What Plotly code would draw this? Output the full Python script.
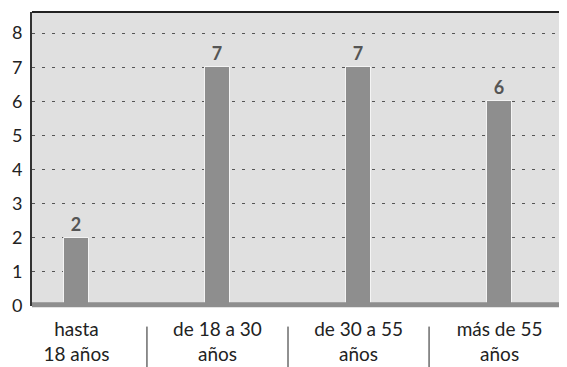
import plotly.graph_objects as go

# data
categories = ["hasta<br>18 años", "de 18 a 30<br>años", "de 30 a 55<br>años", "más de 55<br>años"]
values = [2, 7, 7, 6]
y_ticks = [0, 1, 2, 3, 4, 5, 6, 7, 8]

FONT = "Lato"
BAR_GREY = "#8e8e8e"

fig = go.Figure()

fig.add_trace(go.Bar(
    x=categories,
    y=values,
    width=0.18,
    marker=dict(color=BAR_GREY, line=dict(color="#f4f4f4", width=1)),
    text=[str(v) for v in values],
    textposition="outside",
    textfont=dict(family=FONT, size=18, color="#555555", weight="bold"),
    cliponaxis=False,
))

# separators between the category labels, below the axis
for i in range(len(categories) - 1):
    fig.add_shape(type="line", xref="x", yref="paper",
                  x0=i + 0.5, x1=i + 0.5, y0=-0.07, y1=-0.215,
                  line=dict(color="#222222", width=1))

# thick grey base line and dark top border
fig.add_shape(type="line", xref="paper", yref="paper", x0=0, x1=1, y0=0.004, y1=0.004,
              line=dict(color=BAR_GREY, width=5), layer="above")
fig.add_shape(type="line", xref="paper", yref="paper", x0=0, x1=1, y0=1, y1=1,
              line=dict(color="#222222", width=2))

# the page body adds an 8px offset, so the figure is 8px smaller
fig.update_layout(
    width=559, height=359,
    margin=dict(l=24, r=0, t=4, b=61),
    paper_bgcolor="white",
    plot_bgcolor="#e0e0e0",
    showlegend=False,
    bargap=0,
    font=dict(family=FONT, size=17, color="#222222"),
)

fig.update_xaxes(
    type="category",
    range=[-0.315, 3.478],
    showgrid=False,
    zeroline=False,
    showline=False,
    ticks="",
    ticklabelstandoff=10,
    tickfont=dict(family=FONT, size=19, color="#222222"),
)

fig.update_yaxes(
    range=[0, 8.62],
    tickvals=y_ticks,
    showgrid=True,
    gridcolor="#555555",
    gridwidth=1,
    griddash="3px,7px",
    zeroline=False,
    showline=True,
    linecolor="#333333",
    linewidth=2,
    ticks="",
    ticklabelstandoff=4,
    tickfont=dict(family=FONT, size=18, color="#222222"),
)

fig.write_html("out.html")
